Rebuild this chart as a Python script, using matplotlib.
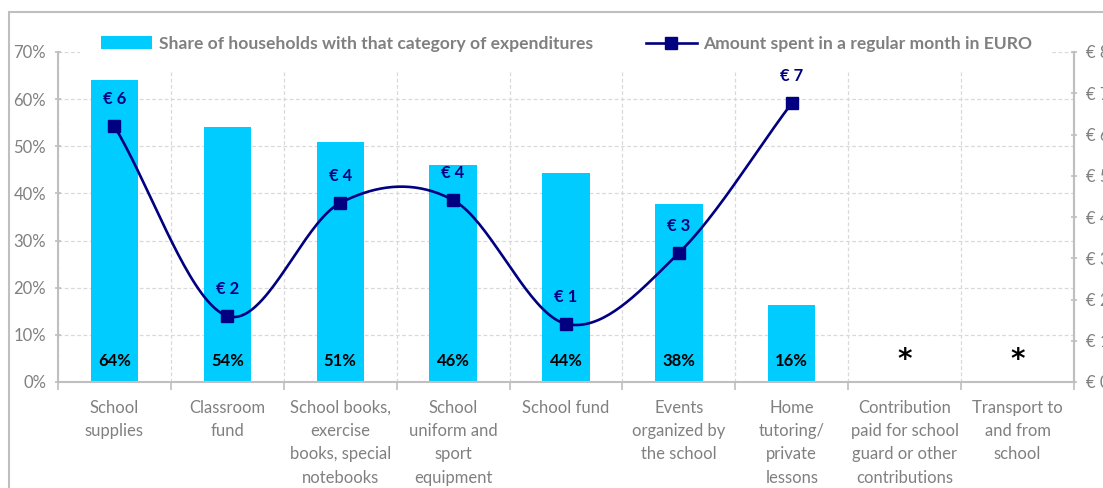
import numpy as np
import matplotlib
matplotlib.use("Agg")
import matplotlib.pyplot as plt
from matplotlib.patches import Rectangle, Patch
from matplotlib.lines import Line2D
from matplotlib.ticker import FuncFormatter, FixedLocator

plt.rcParams['font.family'] = ['Lato', 'DejaVu Sans']

categories = ["School\nsupplies", "Classroom\nfund", "School books,\nexercise\nbooks, special\nnotebooks",
              "School\nuniform and\nsport\nequipment", "School fund", "Events\norganized by\nthe school",
              "Home\ntutoring/\nprivate\nlessons", "Contribution\npaid for school\nguard or other\ncontributions",
              "Transport to\nand from\nschool"]
share = [64.1, 54.1, 50.9, 46.1, 44.4, 37.8, 16.3]
share_labels = ["64%", "54%", "51%", "46%", "44%", "38%", "16%"]
amount = [6.2, 1.6, 4.34, 4.41, 1.41, 3.13, 6.76]
amount_labels = ["€ 6", "€ 2", "€ 4", "€ 4", "€ 1", "€ 3", "€ 7"]
starred = [7, 8]

cyan = "#00CCFF"
navy = "#000080"
grey = "#808080"
gridc = "#D9D9D9"

W, H = 1103, 488
fig = plt.figure(figsize=(W / 100, H / 100), dpi=100)
ax = fig.add_axes([58 / W, 106 / H, (1074 - 58) / W, 330 / H])
ax2 = ax.twinx()

x = np.arange(len(categories))
xb = np.arange(len(share))
ax.bar(xb, share, width=0.42, color=cyan, zorder=2)
for xi, lab in zip(xb, share_labels):
    ax.text(xi, 4.5, lab, ha="center", va="center", fontsize=12, fontweight="bold", color="black", zorder=3)
for xi in starred:
    ax.text(xi, 4.6, "*", ha="center", va="center", fontsize=20, fontweight="bold", color="black",
            family="DejaVu Sans", zorder=3)

ax.set_xlim(-0.5, len(categories) - 0.5)
ax.set_ylim(0, 70)
ax.set_yticks(np.arange(0, 71, 10))
ax.yaxis.set_major_formatter(FuncFormatter(lambda v, p: f"{int(v)}%"))
ax.set_xticks(x)
ax.set_xticklabels(categories, fontsize=12, color=grey, linespacing=1.55, va="top")
ax.xaxis.set_minor_locator(FixedLocator(np.arange(-0.5, len(categories), 1.0)))
ax.tick_params(axis="x", which="major", length=0, pad=13)
ax.tick_params(axis="x", which="minor", length=6, color="#BFBFBF", width=1.2)
ax.tick_params(axis="y", which="major", length=5, color="#BFBFBF", width=1.2, labelsize=12,
               labelcolor=grey, direction="inout", pad=6)
ax.set_axisbelow(True)
ax.grid(axis="y", which="major", color=gridc, linestyle=(0, (3, 2)), linewidth=0.9)
ax.grid(axis="x", which="minor", color=gridc, linestyle=(0, (3, 2)), linewidth=0.9)
ax.spines["top"].set_visible(False)
for s in ["left", "bottom", "right"]:
    ax.spines[s].set_color("#BFBFBF")
    ax.spines[s].set_linewidth(1.5)

# white area behind legend hides grid tops
ax.add_patch(Rectangle(((80 - 58) / 1016, (382 - 72) / 330), (1050 - 80) / 1016, 0.2,
                       transform=ax.transAxes, facecolor="white", edgecolor="none", zorder=1, clip_on=False))

# smoothed line (Catmull-Rom through the points)
px = np.array(xb, dtype=float)
py = np.array(amount, dtype=float)
sx, sy = [], []
for i in range(len(px) - 1):
    p0 = py[i - 1] if i > 0 else py[i]
    p3 = py[i + 2] if i + 2 < len(py) else py[i + 1]
    m1 = (py[i + 1] - p0) / (2 if i > 0 else 1)
    m2 = (p3 - py[i]) / (2 if i + 2 < len(py) else 1)
    t = np.linspace(0, 1, 40)
    h00 = 2 * t**3 - 3 * t**2 + 1
    h10 = t**3 - 2 * t**2 + t
    h01 = -2 * t**3 + 3 * t**2
    h11 = t**3 - t**2
    sx.extend(px[i] + t)
    sy.extend(h00 * py[i] + h10 * m1 + h01 * py[i + 1] + h11 * m2)
ax2.plot(sx, sy, color=navy, linewidth=1.9, zorder=4)
ax2.plot(px, py, linestyle="none", marker="s", markersize=8.5, color=navy, zorder=5)
for xi, yi, lab in zip(px, py, amount_labels):
    ax2.text(xi, yi + 0.65, lab, ha="center", va="center", fontsize=12, fontweight="bold", color=navy)

ax2.set_ylim(0, 8)
ax2.set_yticks(np.arange(0, 9, 1))
ax2.yaxis.set_major_formatter(FuncFormatter(lambda v, p: f"€ {int(v)}"))
ax2.tick_params(axis="y", length=5, color="#BFBFBF", width=1.2, labelsize=12, labelcolor=grey,
                direction="inout", pad=6)
for s in ["top", "left", "bottom"]:
    ax2.spines[s].set_visible(False)
ax2.spines["right"].set_color("#BFBFBF")
ax2.spines["right"].set_linewidth(1.5)

handles = [Patch(facecolor=cyan, edgecolor="none"),
           Line2D([0], [0], color=navy, linewidth=1.9, marker="s", markersize=8.5)]
leg = fig.legend(handles, ["Share of households with that category of expenditures",
                           "Amount spent in a regular month in EURO"],
                 loc="center", bbox_to_anchor=(567 / W, 1 - 44 / H), ncol=2, frameon=False,
                 fontsize=12.6, handlelength=2.9, handleheight=0.75, columnspacing=3.0, handletextpad=0.4)
for t in leg.get_texts():
    t.set_color(grey)
    t.set_fontweight("bold")

# outer chart border (extends past the right and bottom edges)
fig.patches.append(Rectangle((9 / W, -0.2), 1.2, 1.2 - 12 / H, transform=fig.transFigure,
                             facecolor="none", edgecolor="#BFBFBF", linewidth=1.5, zorder=0))

fig.savefig("out.png", dpi=100)
